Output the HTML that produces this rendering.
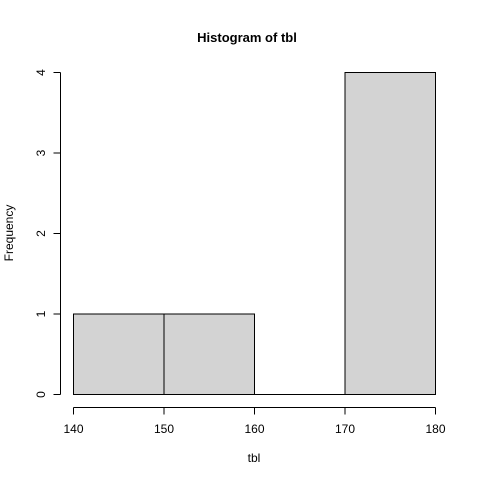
<!DOCTYPE html>
<html><head><meta charset="utf-8"><style>
html,body{margin:0;padding:0;background:#fff;}
svg text{font-family:"Liberation Sans",Arial,sans-serif;fill:#000;}
</style></head><body>
<svg id="chart" width="480" height="480" viewBox="0 0 480 480">
<rect width="480" height="480" fill="#fff"/>
<text x="247" y="42" text-anchor="middle" font-size="13" font-weight="bold">Histogram of tbl</text>
<g id="bars"></g>
<g id="xaxis"></g>
<g id="yaxis"></g>
<text x="254" y="462" text-anchor="middle" font-size="12">tbl</text>
<text transform="translate(13,233) rotate(-90)" text-anchor="middle" font-size="12">Frequency</text>
</svg>
<script>
const binStarts = [140, 150, 160, 170];
const binEnds = [150, 160, 170, 180];
const counts = [1, 1, 0, 4];
const xTicks = [140, 150, 160, 170, 180];
const yTicks = [0, 1, 2, 3, 4];

const NS = "http://www.w3.org/2000/svg";
function xs(v){ return 73 + (v - 140) * (435 - 73) / 40; }
function ys(v){ return 394 - v * (394 - 72) / 4; }
function mk(tag, attrs, parent){
  const e = document.createElementNS(NS, tag);
  for (const k in attrs) e.setAttribute(k, attrs[k]);
  parent.appendChild(e);
  return e;
}
const bars = document.getElementById('bars');
for (let i = 0; i < counts.length; i++) {
  const x0 = xs(binStarts[i]) + 0.5, x1 = xs(binEnds[i]) + 0.5;
  const y0 = ys(0) + 0.5, y1 = ys(counts[i]) + 0.5;
  const r = mk('path', {d: 'M' + x0 + ',' + y0 + 'L' + x0 + ',' + y1 + 'L' + x1 + ',' + y1 + 'L' + x1 + ',' + y0 + 'Z',
    fill: '#d3d3d3', stroke: '#000', 'stroke-width': 1}, bars);
  
  
}
const xa = document.getElementById('xaxis');
mk('line', {x1: xs(xTicks[0]) + 0.5, x2: xs(xTicks[xTicks.length-1]) + 0.5, y1: 407.5, y2: 407.5, stroke: '#000'}, xa);
xTicks.forEach(t => {
  mk('line', {x1: xs(t) + 0.5, x2: xs(t) + 0.5, y1: 407.5, y2: 414.5, stroke: '#000'}, xa);
  const tx = mk('text', {x: xs(t) + 0.5, y: 433, 'text-anchor': 'middle', 'font-size': 12}, xa);
  tx.textContent = t;
  
  
});
const ya = document.getElementById('yaxis');
mk('line', {x1: 60.5, x2: 60.5, y1: ys(yTicks[0]) + 0.5, y2: ys(yTicks[yTicks.length-1]) + 0.5, stroke: '#000'}, ya);
yTicks.forEach(t => {
  mk('line', {x1: 53.5, x2: 60.5, y1: ys(t) + 0.5, y2: ys(t) + 0.5, stroke: '#000'}, ya);
  const tx = mk('text', {transform: 'translate(45,' + (ys(t) + 0.5) + ') rotate(-90)', 'text-anchor': 'middle', 'font-size': 12}, ya);
  tx.textContent = t;
  
  
});
</script>
</body></html>
